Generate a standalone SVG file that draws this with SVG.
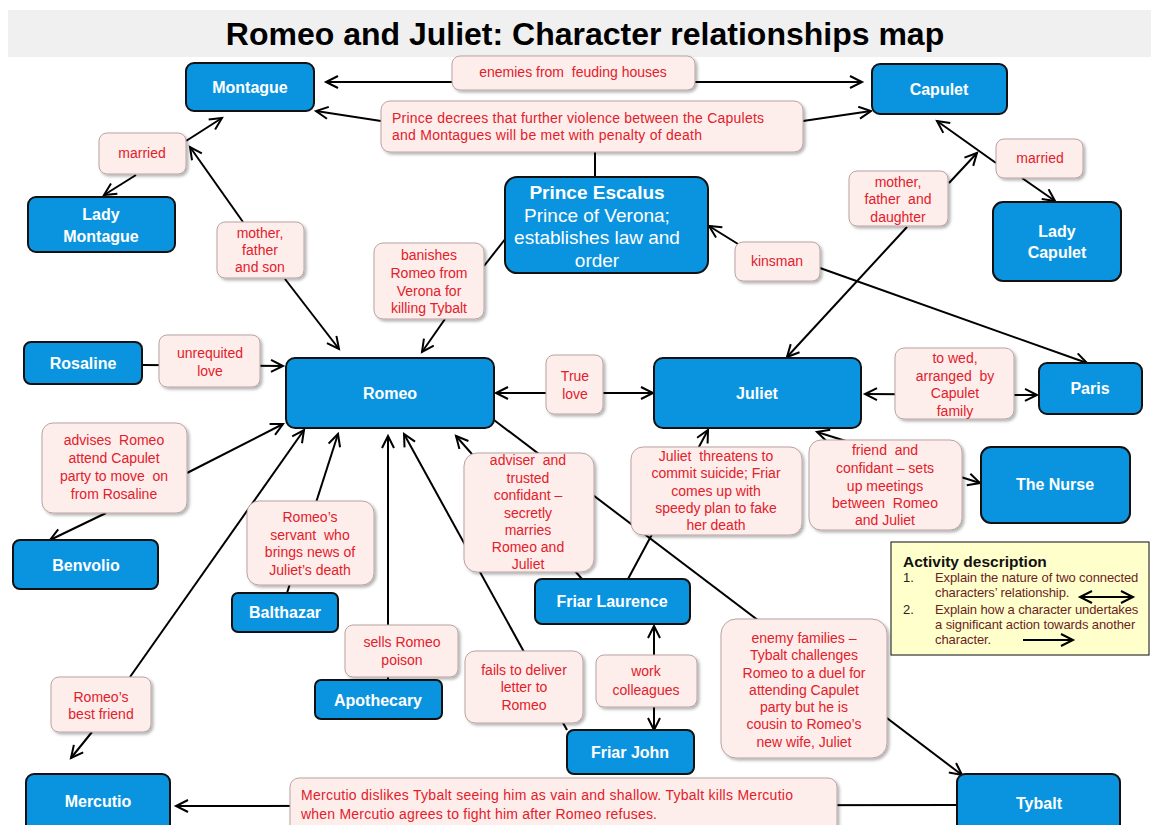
<svg xmlns="http://www.w3.org/2000/svg" width="1151" height="825" viewBox="0 0 1151 825">
<defs>
<marker id="ar" markerUnits="userSpaceOnUse" markerWidth="16" markerHeight="16" refX="13" refY="7" orient="auto-start-reverse">
<path d="M1,1 L13,7 L1,13" fill="none" stroke="#000" stroke-width="2"/>
</marker>
<filter id="sh" x="-10%" y="-10%" width="125%" height="130%">
<feDropShadow dx="2" dy="2" stdDeviation="1.5" flood-color="#000" flood-opacity="0.3"/>
</filter>
</defs>
<style>
.node rect{fill:#0a94df;stroke:#111;stroke-width:2}
.nt{font-family:"Liberation Sans",Arial,sans-serif;font-weight:bold;font-size:16px;fill:#fff;text-anchor:middle}
.pt{font-size:19px}
.nn{font-weight:normal}
.lbl rect{fill:#fdedeb;stroke:#b9a3a3;stroke-width:1;filter:url(#sh)}
.lt{font-family:"Liberation Sans",Arial,sans-serif;font-size:14px;fill:#e3202a;text-anchor:middle;white-space:pre}
.ll{text-anchor:start}
.c{stroke:#000;stroke-width:2;fill:none}
.a{marker-end:url(#ar)}
.b{marker-start:url(#ar);marker-end:url(#ar)}
</style>
<rect x="0" y="0" width="1151" height="825" fill="#fff"/>
<rect x="8" y="10" width="1143" height="47" fill="#f0f0f0"/>
<text x="585" y="45" font-family="'Liberation Sans',Arial,sans-serif" font-weight="bold" font-size="32" text-anchor="middle" fill="#000">Romeo and Juliet: Character relationships map</text>

<g id="connectors">
<path class="c b" d="M326,82 L862,82"/>
<path class="c a" d="M381,121 L316,111"/>
<path class="c a" d="M803,121 L871,111"/>
<path class="c" d="M595,152 L595,177"/>
<path class="c a" d="M186,141 L222,118"/>
<path class="c a" d="M136,175 L104,195"/>
<path class="c a" d="M243,222 L190,147"/>
<path class="c a" d="M285,279 L339,349"/>
<path class="c a" d="M996,163 L937,121"/>
<path class="c a" d="M1022,178 L1055,201"/>
<path class="c a" d="M949,183 L977,153"/>
<path class="c a" d="M907,227 L787,357"/>
<path class="c a" d="M738,244 L709,226"/>
<path class="c a" d="M820,268 L1087,363"/>
<path class="c" d="M484,266 L506,238"/>
<path class="c a" d="M445,319 L422,352"/>
<path class="c b" d="M496,393 L653,393"/>
<path class="c a" d="M142,365 L283,366"/>
<path class="c a" d="M187,473 L283,424"/>
<path class="c a" d="M106,513 L50,540"/>
<path class="c a" d="M130,677 L304,430"/>
<path class="c a" d="M92,732 L71,758"/>
<path class="c a" d="M287,593 L338,434"/>
<path class="c a" d="M388,680 L388,436"/>
<path class="c a" d="M567,730 L404,434"/>
<path class="c a" d="M582,579 L456,436"/>
<path class="c a" d="M494,420 L962,775"/>
<path class="c a" d="M628,579 L708,430"/>
<path class="c b" d="M817,432 L980,483"/>
<path class="c b" d="M865,394 L1037,395"/>
<path class="c b" d="M654,626 L654,730"/>
<path class="c a" d="M957,805 L176,806"/>
</g>

<g id="n-montague" class="node"><rect x="186" y="63" width="128" height="48" rx="8"/><text class="nt" x="250" y="93">Montague</text></g>
<g id="n-capulet" class="node"><rect x="872" y="64" width="135" height="50" rx="8"/><text class="nt" x="939" y="95">Capulet</text></g>
<g id="n-ladymontague" class="node"><rect x="28" y="197" width="147" height="55" rx="8"/><text class="nt" x="101" y="220">Lady</text><text class="nt" x="101" y="242">Montague</text></g>
<g id="n-ladycapulet" class="node"><rect x="993" y="202" width="128" height="79" rx="10"/><text class="nt" x="1057" y="237">Lady</text><text class="nt" x="1057" y="258">Capulet</text></g>
<g id="n-prince" class="node"><rect x="505" y="177" width="203" height="96" rx="12"/>
<text class="nt pt" x="597" y="199">Prince Escalus</text>
<text class="nt pt nn" x="597" y="222">Prince of Verona;</text>
<text class="nt pt nn" x="597" y="244">establishes law and</text>
<text class="nt pt nn" x="597" y="267">order</text></g>
<g id="n-rosaline" class="node"><rect x="24" y="342" width="118" height="42" rx="7"/><text class="nt" x="83" y="369">Rosaline</text></g>
<g id="n-romeo" class="node"><rect x="286" y="358" width="208" height="70" rx="9"/><text class="nt" x="390" y="399">Romeo</text></g>
<g id="n-juliet" class="node"><rect x="654" y="358" width="207" height="70" rx="9"/><text class="nt" x="757" y="399">Juliet</text></g>
<g id="n-paris" class="node"><rect x="1039" y="363" width="103" height="51" rx="8"/><text class="nt" x="1090" y="394">Paris</text></g>
<g id="n-nurse" class="node"><rect x="981" y="447" width="149" height="76" rx="10"/><text class="nt" x="1055" y="490">The Nurse</text></g>
<g id="n-benvolio" class="node"><rect x="13" y="540" width="145" height="49" rx="7"/><text class="nt" x="86" y="571">Benvolio</text></g>
<g id="n-balthazar" class="node"><rect x="232" y="593" width="106" height="39" rx="6"/><text class="nt" x="285" y="618">Balthazar</text></g>
<g id="n-apothecary" class="node"><rect x="315" y="680" width="127" height="39" rx="6"/><text class="nt" x="378" y="706">Apothecary</text></g>
<g id="n-friarlaurence" class="node"><rect x="535" y="579" width="155" height="45" rx="7"/><text class="nt" x="612" y="607">Friar Laurence</text></g>
<g id="n-friarjohn" class="node"><rect x="567" y="730" width="127" height="44" rx="7"/><text class="nt" x="630" y="758">Friar John</text></g>
<g id="n-mercutio" class="node"><rect x="26" y="774" width="144" height="62" rx="8"/><text class="nt" x="98" y="807">Mercutio</text></g>
<g id="n-tybalt" class="node"><rect x="957" y="774" width="163" height="62" rx="8"/><text class="nt" x="1039" y="809">Tybalt</text></g>

<g id="labels">
<g class="lbl"><rect x="452" y="56" width="243" height="34" rx="8"/><text class="lt" x="573" y="77">enemies from  feuding houses</text></g>
<g class="lbl"><rect x="381" y="101" width="422" height="51" rx="9"/><text class="lt ll" x="392" y="123" textLength="372">Prince decrees that further violence between the Capulets</text><text class="lt ll" x="392" y="140" textLength="310">and Montagues will be met with penalty of death</text></g>
<g class="lbl"><rect x="99" y="133" width="87" height="41" rx="8"/><text class="lt" x="142" y="158">married</text></g>
<g class="lbl"><rect x="217" y="222" width="87" height="56" rx="8"/><text class="lt" x="260" y="238">mother,</text><text class="lt" x="260" y="255">father</text><text class="lt" x="260" y="272">and son</text></g>
<g class="lbl"><rect x="996" y="139" width="87" height="39" rx="8"/><text class="lt" x="1040" y="163">married</text></g>
<g class="lbl"><rect x="849" y="171" width="99" height="55" rx="8"/><text class="lt" x="898" y="187">mother,</text><text class="lt" x="898" y="204">father  and</text><text class="lt" x="898" y="222">daughter</text></g>
<g class="lbl"><rect x="374" y="243" width="110" height="76" rx="9"/><text class="lt" x="429" y="260">banishes</text><text class="lt" x="429" y="278">Romeo from</text><text class="lt" x="429" y="296">Verona for</text><text class="lt" x="429" y="313">killing Tybalt</text></g>
<g class="lbl"><rect x="735" y="242" width="85" height="39" rx="8"/><text class="lt" x="777" y="266">kinsman</text></g>
<g class="lbl"><rect x="159" y="335" width="101" height="52" rx="8"/><text class="lt" x="210" y="358">unrequited</text><text class="lt" x="210" y="376">love</text></g>
<g class="lbl"><rect x="546" y="355" width="57" height="59" rx="8"/><text class="lt" x="575" y="381">True</text><text class="lt" x="575" y="399">love</text></g>
<g class="lbl"><rect x="895" y="348" width="119" height="71" rx="9"/><text class="lt" x="955" y="363">to wed,</text><text class="lt" x="955" y="381">arranged  by</text><text class="lt" x="955" y="398">Capulet</text><text class="lt" x="955" y="416">family</text></g>
<g class="lbl"><rect x="42" y="423" width="145" height="90" rx="11"/><text class="lt" x="114" y="445">advises  Romeo</text><text class="lt" x="114" y="463">attend Capulet</text><text class="lt" x="114" y="481">party to move  on</text><text class="lt" x="114" y="499">from Rosaline</text></g>
<g class="lbl"><rect x="464" y="453" width="130" height="119" rx="13"/><text class="lt" x="528" y="465">adviser  and</text><text class="lt" x="528" y="483">trusted</text><text class="lt" x="528" y="500">confidant –</text><text class="lt" x="528" y="518">secretly</text><text class="lt" x="528" y="535">marries</text><text class="lt" x="528" y="552">Romeo and</text><text class="lt" x="528" y="569">Juliet</text></g>
<g class="lbl"><rect x="631" y="447" width="171" height="88" rx="12"/><text class="lt" x="716" y="461">Juliet  threatens to</text><text class="lt" x="716" y="478">commit suicide; Friar</text><text class="lt" x="716" y="496">comes up with</text><text class="lt" x="716" y="513">speedy plan to fake</text><text class="lt" x="716" y="530">her death</text></g>
<g class="lbl"><rect x="809" y="440" width="153" height="90" rx="12"/><text class="lt" x="885" y="455">friend  and</text><text class="lt" x="885" y="473">confidant – sets</text><text class="lt" x="885" y="491">up meetings</text><text class="lt" x="885" y="508">between  Romeo</text><text class="lt" x="885" y="525">and Juliet</text></g>
<g class="lbl"><rect x="247" y="501" width="127" height="84" rx="12"/><text class="lt" x="310" y="522">Romeo’s</text><text class="lt" x="310" y="540">servant  who</text><text class="lt" x="310" y="557">brings news of</text><text class="lt" x="310" y="575">Juliet’s death</text></g>
<g class="lbl"><rect x="345" y="625" width="113" height="52" rx="8"/><text class="lt" x="402" y="647">sells Romeo</text><text class="lt" x="402" y="665">poison</text></g>
<g class="lbl"><rect x="465" y="651" width="118" height="72" rx="10"/><text class="lt" x="524" y="675">fails to deliver</text><text class="lt" x="524" y="692">letter to</text><text class="lt" x="524" y="710">Romeo</text></g>
<g class="lbl"><rect x="596" y="655" width="101" height="52" rx="8"/><text class="lt" x="646" y="676">work</text><text class="lt" x="646" y="695">colleagues</text></g>
<g class="lbl"><rect x="721" y="619" width="166" height="139" rx="15"/><text class="lt" x="804" y="643">enemy families –</text><text class="lt" x="804" y="660">Tybalt challenges</text><text class="lt" x="804" y="678">Romeo to a duel for</text><text class="lt" x="804" y="695">attending Capulet</text><text class="lt" x="804" y="712">party but he is</text><text class="lt" x="804" y="729">cousin to Romeo’s</text><text class="lt" x="804" y="747">new wife, Juliet</text></g>
<g class="lbl"><rect x="51" y="677" width="100" height="55" rx="8"/><text class="lt" x="101" y="702">Romeo’s</text><text class="lt" x="101" y="719">best friend</text></g>
<g class="lbl"><rect x="290" y="778" width="547" height="60" rx="9"/><text class="lt ll" x="301" y="800" textLength="492">Mercutio dislikes Tybalt seeing him as vain and shallow. Tybalt kills Mercutio</text><text class="lt ll" x="301" y="819" textLength="356">when Mercutio agrees to fight him after Romeo refuses.</text></g>
</g>

<g id="activity">
<rect x="891" y="542" width="258" height="113" fill="#ffffcc" stroke="#333" stroke-width="1.2"/>
<text x="903" y="567" font-family="'Liberation Sans',Arial,sans-serif" font-weight="bold" font-size="15.5" fill="#111">Activity description</text>
<g font-family="'Liberation Sans',Arial,sans-serif" font-size="13" fill="#6b1e1e">
<text x="903" y="582" fill="#222">1.</text>
<text x="935" y="582" letter-spacing="-0.1">Explain the nature of two connected</text>
<text x="935" y="597" letter-spacing="-0.1">characters’ relationship.</text>
<text x="903" y="614" fill="#222">2.</text>
<text x="935" y="614" letter-spacing="-0.1">Explain how a character undertakes</text>
<text x="935" y="629" letter-spacing="-0.1">a significant action towards another</text>
<text x="935" y="644" letter-spacing="-0.1">character.</text>
</g>
<path class="c b" d="M1080,597 L1133,597"/>
<path class="c a" d="M1023,640 L1073,640"/>
</g>
</svg>
